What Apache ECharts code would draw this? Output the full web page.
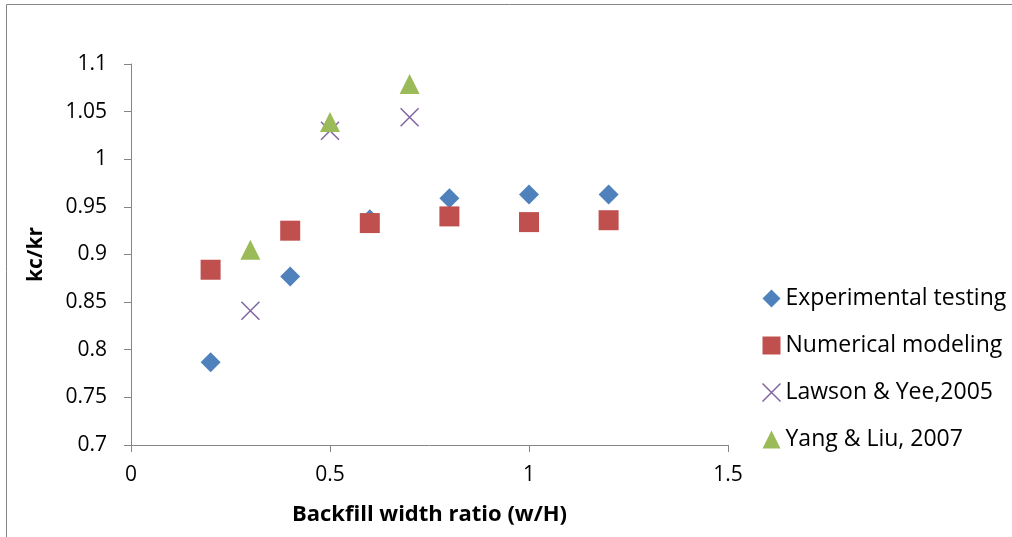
<!DOCTYPE html>
<html><head><meta charset="utf-8">
<script src="https://cdn.jsdelivr.net/npm/echarts@6/dist/echarts.min.js"></script>
<style>html,body{margin:0;padding:0;background:#fff}#c{width:1012px;height:537px}</style>
</head><body><div id="c"></div>
<script>
const expX = [0.2, 0.4, 0.6, 0.8, 1.0, 1.2];
const expY = [0.787, 0.877, 0.937, 0.959, 0.963, 0.963];
const numX = [0.2, 0.4, 0.6, 0.8, 1.0, 1.2];
const numY = [0.884, 0.925, 0.933, 0.940, 0.934, 0.936];
const lawX = [0.3, 0.5, 0.7];
const lawY = [0.841, 1.030, 1.044];
const yangX = [0.3, 0.5, 0.7];
const yangY = [0.905, 1.039, 1.079];
const seriesNames = ['Experimental testing', 'Numerical modeling', 'Lawson & Yee,2005', 'Yang & Liu, 2007'];
const xTitle = 'Backfill width ratio (w/H)';
const yTitle = 'kc/kr';

const pair = (xs, ys) => xs.map((x, i) => [x, ys[i]]);
const font = '"Open Sans", Lato, sans-serif';
const crossPath = 'path://M0,0L10,10M10,0L0,10';

const chart = echarts.init(document.getElementById('c'), null, {renderer: 'canvas'});
chart.setOption({
  animation: false,
  backgroundColor: '#fff',
  graphic: [{
    type: 'rect', silent: true,
    shape: {x: 6.5, y: 4.5, width: 1200, height: 700},
    style: {fill: 'none', stroke: '#868686', lineWidth: 1}
  }],
  grid: {left: 131, right: 284, top: 64, bottom: 92},
  xAxis: {
    type: 'value', min: 0, max: 1.5, interval: 0.5,
    name: xTitle, nameLocation: 'middle', nameGap: 59,
    nameTextStyle: {fontFamily: font, fontWeight: 'bold', fontSize: 22, color: '#000'},
    axisLine: {show: true, onZero: false, lineStyle: {color: '#868686', width: 1}},
    axisTick: {show: true, length: 7, lineStyle: {color: '#868686'}},
    axisLabel: {fontFamily: font, fontSize: 21, color: '#000', margin: 20},
    splitLine: {show: false}
  },
  yAxis: {
    type: 'value', min: 0.7, max: 1.1, interval: 0.05,
    name: yTitle, nameLocation: 'middle', nameGap: 84, nameRotate: 90,
    nameTextStyle: {fontFamily: font, fontWeight: 'bold', fontSize: 21, color: '#000'},
    axisLine: {show: true, onZero: false, lineStyle: {color: '#868686', width: 1}},
    axisTick: {show: true, length: 7, lineStyle: {color: '#868686'}},
    axisLabel: {fontFamily: font, fontSize: 21, color: '#000', margin: 24,
      formatter: v => String(+v.toFixed(2))},
    splitLine: {show: false}
  },
  legend: {
    orient: 'vertical', left: 755, top: 282, itemGap: 24,
    itemWidth: 18, itemHeight: 18,
    textStyle: {fontFamily: font, fontSize: 23, color: '#000'},
    data: [
      {name: seriesNames[0], icon: 'diamond'},
      {name: seriesNames[1], icon: 'rect'},
      {name: seriesNames[2], icon: crossPath, itemStyle: {color: 'none', borderColor: '#8064A2', borderWidth: 1.5}},
      {name: seriesNames[3], icon: 'triangle'}
    ]
  },
  series: [
    {name: seriesNames[0], type: 'scatter', data: pair(expX, expY), symbol: 'diamond', symbolSize: 20,
      itemStyle: {color: '#4F81BD', opacity: 1}},
    {name: seriesNames[1], type: 'scatter', data: pair(numX, numY), symbol: 'rect', symbolSize: 20,
      itemStyle: {color: '#C0504D', opacity: 1}},
    {name: seriesNames[2], type: 'scatter', data: pair(lawX, lawY), symbol: crossPath, symbolSize: 18,
      itemStyle: {color: 'none', borderColor: '#8064A2', borderWidth: 1.5, opacity: 1}},
    {name: seriesNames[3], type: 'scatter', data: pair(yangX, yangY), symbol: 'triangle', symbolSize: 20,
      itemStyle: {color: '#9BBB59', opacity: 1}}
  ]
});
</script></body></html>
